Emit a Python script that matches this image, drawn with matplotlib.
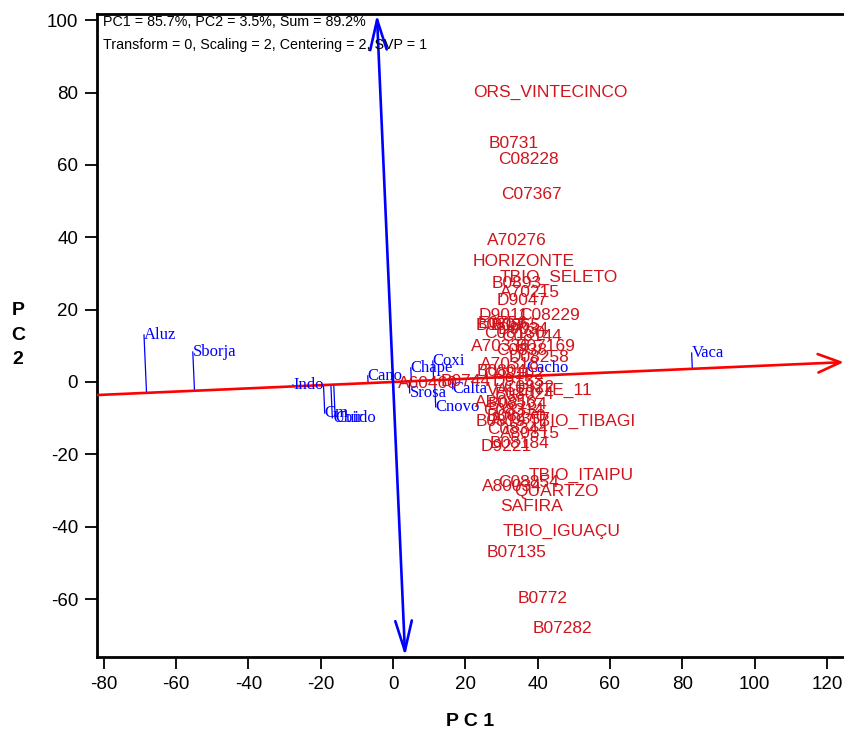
import numpy as np
import matplotlib
matplotlib.use("Agg")
import matplotlib.pyplot as plt
from matplotlib.patches import FancyArrowPatch

# ---------------- data ----------------
# genotypes (red labels, left edge of label = point)
gen_names = ["ORS_VINTECINCO", "B0731", "C08228", "C07367", "A70276", "HORIZONTE",
             "TBIO_SELETO", "B0893", "A70215", "D9047", "D9011", "C08229",
             "B0807", "E0756", "C08130", "D9034", "C08144", "B0865",
             "A70336", "B07169", "C0838", "D08258", "A60460", "B0744",
             "A70318", "C08102", "B0804", "D9153", "C0822", "VALENTE_11",
             "B08024", "AB0856", "B08134", "C08314", "B08270", "A70357",
             "B0819", "TBIO_TIBAGI", "C08344", "A80815", "B08184", "D9221",
             "TBIO_ITAIPU", "A80034", "C08854", "QUARTZO", "SAFIRA",
             "TBIO_IGUAÇU", "B07135", "B0772", "B07282"]
gen_x = [22.1, 26.5, 29.0, 29.8, 25.9, 22.1,
         29.6, 27.3, 29.5, 28.7, 23.8, 35.0,
         22.9, 23.4, 25.1, 29.0, 30.0, 27.0,
         21.6, 34.0, 28.4, 32.0, 1.3, 13.2,
         24.0, 25.0, 23.2, 27.5, 30.5, 26.0,
         28.0, 22.7, 26.2, 25.0, 25.8, 27.0,
         22.9, 37.5, 26.0, 29.5, 26.8, 24.3,
         37.6, 24.5, 29.0, 33.5, 29.5,
         30.2, 25.9, 34.5, 38.6]
gen_y = [80.1, 66.0, 61.6, 51.7, 39.2, 33.4,
         29.0, 27.3, 24.6, 22.4, 18.5, 18.5,
         15.5, 16.3, 13.3, 14.6, 12.7, 15.5,
         9.7, 9.7, 8.6, 6.9, -0.3, 0.0,
         4.7, 2.2, 2.8, 0.0, -1.4, -2.2,
         -3.5, -5.8, -6.1, -8.0, -9.4, -10.5,
         -10.8, -11.0, -13.0, -14.1, -16.9, -17.7,
         -25.7, -29.0, -27.9, -30.4, -34.3,
         -41.4, -47.2, -59.7, -68.0]

# environments (blue labels with projection on the AEC abscissa)
env_names = ["Aluz", "Sborja", "Indo", "Cm", "Ubir", "Cuido", "Cano", "Chape",
             "Coxi", "Cacho", "Srosa", "Calta", "Cnovo", "Vaca"]
env_x = [-68.9, -55.4, -27.7, -18.9, -16.8, -16.0, -7.0, 4.9,
         11.0, 37.0, 4.6, 16.5, 11.8, 82.6]
env_y = [13.0, 8.3, -0.8, -8.6, -9.9, -10.0, 1.7, 3.9,
         5.8, 3.9, -3.0, -1.9, -6.9, 8.0]

aec_slope = 0.044   # slope of the average-environment axis
x_ticks = np.arange(-80, 121, 20)
y_ticks = np.arange(-60, 101, 20)
xlim = (-81.9, 125.3)
ylim = (-76.0, 101.7)
header = ["PC1 = 85.7%, PC2 = 3.5%, Sum = 89.2%",
          "Transform = 0, Scaling = 2, Centering = 2, SVP = 1"]

# ---------------- figure ----------------
fig = plt.figure(figsize=(8.44, 7.35), dpi=100)
ax = fig.add_axes([97 / 844, 78 / 735, 749 / 844, 643 / 735])
ax.set_xlim(*xlim)
ax.set_ylim(*ylim)

sans = "Liberation Sans"
serif = "Liberation Serif"

# AEC abscissa (red, arrow to the right) and ordinate (blue, both ends)
x0, x1 = xlim[0], xlim[1] - 0.6
ax.add_patch(FancyArrowPatch((x0, aec_slope * x0), (x1, aec_slope * x1),
                             arrowstyle="->,head_length=4.6,head_width=1.9",
                             color="red", lw=1.9, mutation_scale=3.5,
                             shrinkA=0, shrinkB=0, zorder=3))
y0, y1 = ylim[0] + 0.3, ylim[1] - 0.2
ax.add_patch(FancyArrowPatch((-aec_slope * y0, y0), (-aec_slope * y1, y1),
                             arrowstyle="<->,head_length=6.2,head_width=1.7",
                             color="blue", lw=1.9, mutation_scale=3.5,
                             shrinkA=0, shrinkB=0, zorder=3))

# environment projections
k = aec_slope
for name, ex, ey in zip(env_names, env_x, env_y):
    t = (ex + k * ey) / (1 + k * k)
    ax.plot([ex, t], [ey, k * t], color="blue", lw=0.9, zorder=2)
    ax.text(ex, ey, name, color="blue", fontsize=12, family=serif,
            ha="left", va="center", zorder=4)

# genotypes
for name, gx, gy in zip(gen_names, gen_x, gen_y):
    ax.text(gx, gy, name, color="#d0141c", fontsize=12.5, family=sans,
            ha="left", va="center", zorder=5)

# header text
ax.text(0.008, 0.9876, header[0], transform=ax.transAxes, fontsize=10.3,
        family=sans, ha="left", va="center")
ax.text(0.008, 0.952, header[1], transform=ax.transAxes, fontsize=10.3,
        family=sans, ha="left", va="center")

# axes styling
ax.set_xticks(x_ticks)
ax.set_yticks(y_ticks)
ax.set_xticklabels([str(v) for v in x_ticks], family=sans, fontsize=13.5)
ax.set_yticklabels([str(v) for v in y_ticks], family=sans, fontsize=13.5)
ax.tick_params(direction="out", length=8.5, width=1.3, pad=5)
for s in ax.spines.values():
    s.set_linewidth(2)

fig.text(470 / 844, 1 - 722 / 735, "P C 1", fontsize=14, fontweight="bold",
         family=sans, ha="center", va="center")
fig.text(18 / 844, 1 - 335 / 735, "P\nC\n2", fontsize=14, fontweight="bold",
         family=sans, ha="center", va="center", linespacing=1.55)

fig.savefig("out.png", dpi=100)
